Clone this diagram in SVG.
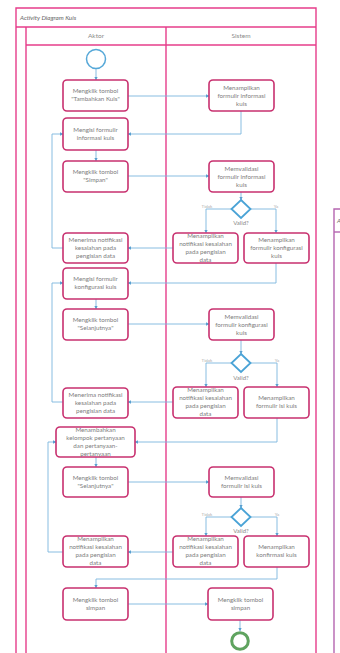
<svg xmlns="http://www.w3.org/2000/svg" width="340" height="653" viewBox="0 0 340 653">
  <style>
    .frame { fill: none; stroke: #e63d8a; stroke-width: 1.4; }
    .frame2 { fill: none; stroke: #b565b0; stroke-width: 1.4; }
    .box { fill: #ffffff; stroke: #c8306f; stroke-width: 1.6; }
    .lbl { font-family: Lato, "Noto Sans", sans-serif; font-size: 6.2px; fill: #7d7d7d; text-anchor: middle; }
    .lane { font-family: Lato, "Noto Sans", sans-serif; font-size: 6.5px; fill: #8a8a8a; text-anchor: middle; }
    .title { font-family: Lato, "Noto Sans", sans-serif; font-size: 6.3px; font-style: italic; fill: #666; }
    .guard { font-family: Lato, "Noto Sans", sans-serif; font-size: 4.5px; fill: #b0b0b0; text-anchor: middle; }
    .cond { font-family: Lato, "Noto Sans", sans-serif; font-size: 6px; fill: #888; text-anchor: middle; }
    .flow { fill: none; stroke: #7cb6de; stroke-width: 0.9; marker-end: url(#arr); }
    .dec { fill: #ffffff; stroke: #4aa3d6; stroke-width: 1.8; }
  </style>
  <defs>
    <marker id="arr" viewBox="0 0 6 6" refX="5.5" refY="3" markerWidth="4" markerHeight="4" orient="auto">
      <path d="M0,0 L6,3 L0,6 z" fill="#5aa0d0"/>
    </marker>
  </defs>

  <rect width="340" height="653" fill="#ffffff"/>

  <!-- pool with two swimlanes -->
  <g id="pool">
    <path class="frame" d="M16,660 V8 H316 V660"/>
    <path class="frame" d="M16,27 H316"/>
    <path class="frame" d="M26,660 V27"/>
    <path class="frame" d="M26,45 H316"/>
    <path class="frame" d="M166,660 V27"/>
    <text class="title" x="20" y="19.5">Activity Diagram Kuis</text>
    <text class="lane" x="96" y="38">Aktor</text>
    <text class="lane" x="241" y="38">Sistem</text>
  </g>

  <!-- neighbouring diagram frame -->
  <g id="pool2">
    <path class="frame2" d="M334,660 V209 H345"/>
    <path class="frame2" d="M334,232 H345"/>
    <text class="title" x="337" y="223">A</text>
  </g>

  <!-- connectors -->
  <g id="connectors">
    <path class="flow" d="M96,69 V80"/>
    <path class="flow" d="M128,96 H209"/>
    <path class="flow" d="M241,111 V134 H128"/>
    <path class="flow" d="M96,150 V161"/>
    <path class="flow" d="M128,176 H209"/>
    <path class="flow" d="M241,192 V200"/>
    <path class="flow" d="M232,209 H206 V233"/>
    <path class="flow" d="M251,209 H276 V233"/>
    <path class="flow" d="M173,248 H128"/>
    <path class="flow" d="M63,248 H52 V134 H63"/>
    <path class="flow" d="M276,263 V283 H128"/>
    <path class="flow" d="M96,299 V309"/>
    <path class="flow" d="M128,324 H209"/>
    <path class="flow" d="M241,340 V354"/>
    <path class="flow" d="M232,363 H206 V387"/>
    <path class="flow" d="M251,363 H277 V387"/>
    <path class="flow" d="M173,402 H128"/>
    <path class="flow" d="M63,402 H52 V283 H63"/>
    <path class="flow" d="M277,418 V442 H135"/>
    <path class="flow" d="M96,457 V467"/>
    <path class="flow" d="M128,482 H209"/>
    <path class="flow" d="M241,497 V508"/>
    <path class="flow" d="M232,517 H206 V536"/>
    <path class="flow" d="M251,517 H277 V536"/>
    <path class="flow" d="M173,552 H128"/>
    <path class="flow" d="M63,552 H48 V442 H56"/>
    <path class="flow" d="M277,567 V579 H96 V588"/>
    <path class="flow" d="M128,604 H208"/>
    <path class="flow" d="M240,620 V631"/>
    <text class="guard" x="207" y="208">Tidak</text>
    <text class="guard" x="276" y="208">Ya</text>
    <text class="guard" x="207" y="362">Tidak</text>
    <text class="guard" x="277" y="362">Ya</text>
    <text class="guard" x="207" y="516">Tidak</text>
    <text class="guard" x="277" y="516">Ya</text>
  </g>

  <g id="start"><circle cx="96" cy="59" r="9.5" fill="#fff" stroke="#56a8d8" stroke-width="1.5"/></g>

  <g id="a1"><rect class="box" x="63" y="80" width="65" height="31" rx="4"/>
    <text class="lbl" x="95.5" y="93">Mengklik tombol</text><text class="lbl" x="95.5" y="101">"Tambahkan Kuis"</text></g>
  <g id="s1"><rect class="box" x="209" y="80" width="65" height="31" rx="4"/>
    <text class="lbl" x="241.5" y="89.5">Menampilkan</text><text class="lbl" x="241.5" y="97.5">formulir informasi</text><text class="lbl" x="241.5" y="105.5">kuis</text></g>
  <g id="a2"><rect class="box" x="63" y="118" width="65" height="32" rx="4"/>
    <text class="lbl" x="95.5" y="131.5">Mengisi formulir</text><text class="lbl" x="95.5" y="139.5">informasi kuis</text></g>
  <g id="a3"><rect class="box" x="63" y="161" width="65" height="31" rx="4"/>
    <text class="lbl" x="95.5" y="174">Mengklik tombol</text><text class="lbl" x="95.5" y="182">"Simpan"</text></g>
  <g id="s2"><rect class="box" x="209" y="161" width="65" height="31" rx="4"/>
    <text class="lbl" x="241.5" y="170.5">Memvalidasi</text><text class="lbl" x="241.5" y="178.5">formulir informasi</text><text class="lbl" x="241.5" y="186.5">kuis</text></g>
  <g id="d1"><path class="dec" d="M241,200 L250.5,209 L241,218 L231.5,209 Z"/>
    <text class="cond" x="241" y="225">Valid?</text></g>
  <g id="s3"><rect class="box" x="173" y="233" width="65" height="30" rx="4"/>
    <text class="lbl" x="205.5" y="238">Menampilkan</text><text class="lbl" x="205.5" y="246">notifikasi kesalahan</text><text class="lbl" x="205.5" y="254">pada pengisian</text><text class="lbl" x="205.5" y="262">data</text></g>
  <g id="s4"><rect class="box" x="244" y="233" width="65" height="30" rx="4"/>
    <text class="lbl" x="276.5" y="242">Menampilkan</text><text class="lbl" x="276.5" y="250">formulir konfigurasi</text><text class="lbl" x="276.5" y="258">kuis</text></g>
  <g id="a4"><rect class="box" x="63" y="233" width="65" height="30" rx="4"/>
    <text class="lbl" x="95.5" y="242">Menerima notifikasi</text><text class="lbl" x="95.5" y="250">kesalahan pada</text><text class="lbl" x="95.5" y="258">pengisian data</text></g>
  <g id="a5"><rect class="box" x="63" y="268" width="65" height="31" rx="4"/>
    <text class="lbl" x="95.5" y="281">Mengisi formulir</text><text class="lbl" x="95.5" y="289">konfigurasi kuis</text></g>
  <g id="a6"><rect class="box" x="63" y="309" width="65" height="31" rx="4"/>
    <text class="lbl" x="95.5" y="322">Mengklik tombol</text><text class="lbl" x="95.5" y="330">"Selanjutnya"</text></g>
  <g id="s5"><rect class="box" x="209" y="309" width="65" height="31" rx="4"/>
    <text class="lbl" x="241.5" y="318.5">Memvalidasi</text><text class="lbl" x="241.5" y="326.5">formulir konfigurasi</text><text class="lbl" x="241.5" y="334.5">kuis</text></g>
  <g id="d2"><path class="dec" d="M241,354 L250.5,363 L241,372 L231.5,363 Z"/>
    <text class="cond" x="241" y="379.5">Valid?</text></g>
  <g id="s6"><rect class="box" x="173" y="387" width="65" height="31" rx="4"/>
    <text class="lbl" x="205.5" y="392">Menampilkan</text><text class="lbl" x="205.5" y="400">notifikasi kesalahan</text><text class="lbl" x="205.5" y="408">pada pengisian</text><text class="lbl" x="205.5" y="416">data</text></g>
  <g id="s7"><rect class="box" x="244" y="387" width="65" height="31" rx="4"/>
    <text class="lbl" x="276.5" y="400">Menampilkan</text><text class="lbl" x="276.5" y="408">formulir isi kuis</text></g>
  <g id="a7"><rect class="box" x="63" y="388" width="65" height="30" rx="4"/>
    <text class="lbl" x="95.5" y="396.5">Menerima notifikasi</text><text class="lbl" x="95.5" y="404.5">kesalahan pada</text><text class="lbl" x="95.5" y="412.5">pengisian data</text></g>
  <g id="a8"><rect class="box" x="56" y="427" width="79" height="30" rx="4"/>
    <text class="lbl" x="95.5" y="432">Menambahkan</text><text class="lbl" x="95.5" y="440">kelompok pertanyaan</text><text class="lbl" x="95.5" y="448">dan pertanyaan-</text><text class="lbl" x="95.5" y="456">pertanyaan</text></g>
  <g id="a9"><rect class="box" x="63" y="467" width="65" height="30" rx="4"/>
    <text class="lbl" x="95.5" y="480">Mengklik tombol</text><text class="lbl" x="95.5" y="488">"Selanjutnya"</text></g>
  <g id="s8"><rect class="box" x="209" y="467" width="65" height="30" rx="4"/>
    <text class="lbl" x="241.5" y="480">Memvalidasi</text><text class="lbl" x="241.5" y="488">formulir isi kuis</text></g>
  <g id="d3"><path class="dec" d="M241,508 L250.5,517 L241,526 L231.5,517 Z"/>
    <text class="cond" x="241" y="533">Valid?</text></g>
  <g id="s9"><rect class="box" x="173" y="536" width="65" height="31" rx="4"/>
    <text class="lbl" x="205.5" y="541">Menampilkan</text><text class="lbl" x="205.5" y="549">notifikasi kesalahan</text><text class="lbl" x="205.5" y="557">pada pengisian</text><text class="lbl" x="205.5" y="565">data</text></g>
  <g id="s10"><rect class="box" x="244" y="536" width="65" height="31" rx="4"/>
    <text class="lbl" x="276.5" y="549">Menampilkan</text><text class="lbl" x="276.5" y="557">konfirmasi kuis</text></g>
  <g id="a10"><rect class="box" x="63" y="536" width="65" height="31" rx="4"/>
    <text class="lbl" x="95.5" y="541">Menampilkan</text><text class="lbl" x="95.5" y="549">notifikasi kesalahan</text><text class="lbl" x="95.5" y="557">pada pengisian</text><text class="lbl" x="95.5" y="565">data</text></g>
  <g id="a11"><rect class="box" x="63" y="588" width="65" height="32" rx="4"/>
    <text class="lbl" x="95.5" y="601.5">Mengklik tombol</text><text class="lbl" x="95.5" y="609.5">simpan</text></g>
  <g id="s11"><rect class="box" x="208" y="588" width="65" height="32" rx="4"/>
    <text class="lbl" x="240.5" y="601.5">Mengklik tombol</text><text class="lbl" x="240.5" y="609.5">simpan</text></g>

  <g id="end"><circle cx="240" cy="641" r="8.3" fill="#fff" stroke="#5fa35f" stroke-width="3"/></g>
</svg>
